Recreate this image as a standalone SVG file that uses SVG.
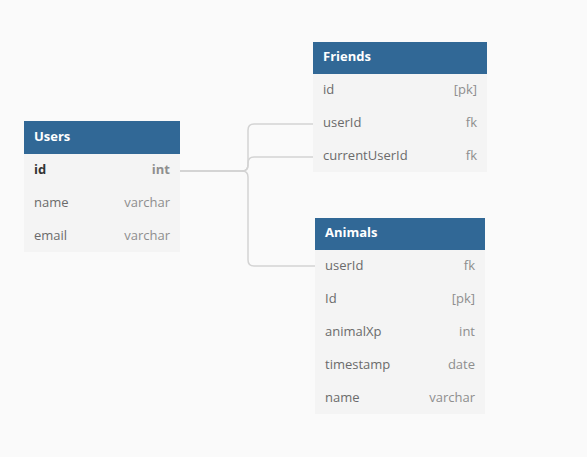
<svg xmlns="http://www.w3.org/2000/svg" width="587" height="457" viewBox="0 0 587 457">
<style>
.bg{fill:#fafafa}
.hd{fill:#316896}
.bd{fill:#f4f4f4}
.ht{font-family:"Open Sans",sans-serif;font-size:13px;font-weight:bold;fill:#ffffff}
.fn{font-family:"Open Sans",sans-serif;font-size:13px;fill:#6b6b6b}
.ft{font-family:"Open Sans",sans-serif;font-size:13px;fill:#8e8e8e;text-anchor:end}
.fb{font-family:"Open Sans",sans-serif;font-size:13px;font-weight:bold;fill:#333333}
.tb{font-family:"Open Sans",sans-serif;font-size:13px;font-weight:bold;fill:#8e8e8e;text-anchor:end}
.cn{fill:none;stroke:#d3d3d3;stroke-width:1.5}
</style>
<rect class="bg" x="0" y="0" width="587" height="457"/>
<g id="connectors">
<path class="cn" d="M180 171 H242 Q248 171 248 165 V130 Q248 124 254 124 H313"/>
<path class="cn" d="M180 171 H242 Q248 171 248 165 V163 Q248 157 254 157 H313"/>
<path class="cn" d="M180 171 H242 Q248 171 248 177 V260 Q248 266 254 266 H315"/>
</g>
<g id="users">
<rect class="bd" x="24" y="154" width="156" height="98"/>
<rect class="hd" x="24" y="121" width="156" height="33"/>
<text class="ht" x="34" y="141">Users</text>
<text class="fb" x="34" y="174">id</text><text class="tb" x="170" y="174">int</text>
<text class="fn" x="34" y="207">name</text><text class="ft" x="170" y="207">varchar</text>
<text class="fn" x="34" y="240">email</text><text class="ft" x="170" y="240">varchar</text>
</g>
<g id="friends">
<rect class="bd" x="313" y="74" width="174" height="98"/>
<rect class="hd" x="313" y="42" width="174" height="32"/>
<text class="ht" x="323" y="61">Friends</text>
<text class="fn" x="323" y="94">id</text><text class="ft" x="477" y="94">[pk]</text>
<text class="fn" x="323" y="127">userId</text><text class="ft" x="477" y="127">fk</text>
<text class="fn" x="323" y="160">currentUserId</text><text class="ft" x="477" y="160">fk</text>
</g>
<g id="animals">
<rect class="bd" x="315" y="250" width="170" height="164"/>
<rect class="hd" x="315" y="218" width="170" height="32"/>
<text class="ht" x="325" y="237">Animals</text>
<text class="fn" x="325" y="270">userId</text><text class="ft" x="475" y="270">fk</text>
<text class="fn" x="325" y="303">Id</text><text class="ft" x="475" y="303">[pk]</text>
<text class="fn" x="325" y="336">animalXp</text><text class="ft" x="475" y="336">int</text>
<text class="fn" x="325" y="369">timestamp</text><text class="ft" x="475" y="369">date</text>
<text class="fn" x="325" y="402">name</text><text class="ft" x="475" y="402">varchar</text>
</g>
</svg>
